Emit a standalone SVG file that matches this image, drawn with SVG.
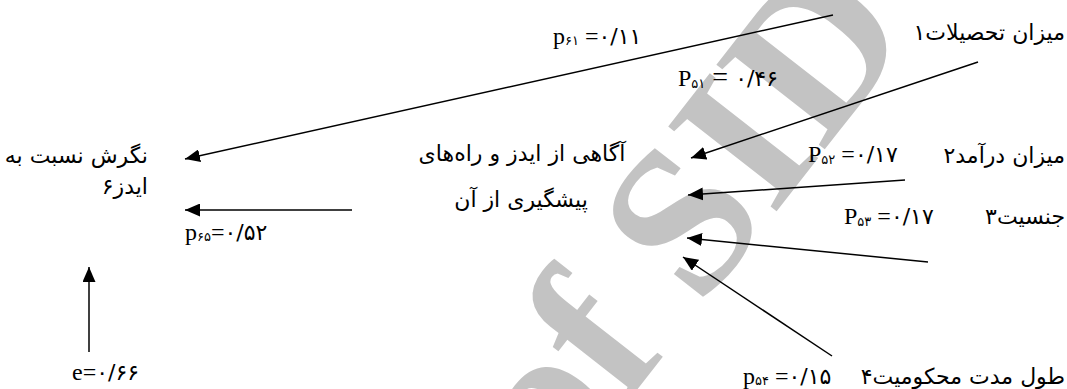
<svg xmlns="http://www.w3.org/2000/svg" width="1067" height="389" viewBox="0 0 1067 389">
<style>
.fa{font-family:"DejaVu Sans","Noto Sans",sans-serif;font-size:22px;fill:#000}
.lb{font-family:"Liberation Serif","DejaVu Sans",serif;font-size:24px;fill:#000}
.sb{font-family:"DejaVu Sans",sans-serif;font-size:13px;letter-spacing:1px}
.dg{font-family:"DejaVu Sans",sans-serif;font-size:22px;letter-spacing:5px}
.ln{stroke:#000;stroke-width:1.5;fill:none;marker-end:url(#ah)}
.wm{font-family:"Liberation Serif",serif;font-weight:bold;font-size:210px;fill:#c3c3c3}
</style>
<defs>
<marker id="ah" markerUnits="userSpaceOnUse" markerWidth="16" markerHeight="13" refX="15" refY="6.5" orient="auto">
<path d="M0,0 L15,6.5 L0,13 z" fill="#000"/>
</marker>
</defs>
<rect width="1067" height="389" fill="#fff"/>
<g id="watermark">
<text class="wm" transform="translate(700,309) rotate(-52)" x="-227" y="0">of SID</text>
</g>
<g id="connectors">
<line class="ln" x1="833" y1="15" x2="185" y2="159"/>
<line class="ln" x1="978" y1="62" x2="691" y2="158"/>
<line class="ln" x1="905" y1="180" x2="688" y2="195"/>
<line class="ln" x1="928" y1="262" x2="687" y2="238"/>
<line class="ln" x1="832" y1="356" x2="683" y2="257"/>
<line class="ln" x1="352" y1="210" x2="185" y2="210"/>
<line class="ln" x1="89" y1="352" x2="89" y2="267"/>
</g>
<g id="labels">
<text class="lb" x="553" y="44">p<tspan class="sb" dy="1">۶۱</tspan><tspan dy="-1"> =</tspan><tspan class="dg">۰/۱۱</tspan></text>
<text class="lb" x="678" y="86">P<tspan class="sb" dy="2">۵۱</tspan><tspan dy="-2" font-size="28"> = </tspan><tspan class="dg">۰/۴۶</tspan></text>
<text class="lb" x="808" y="162">P<tspan class="sb" dy="2">۵۲</tspan><tspan dy="-2"> =</tspan><tspan class="dg">۰/۱۷</tspan></text>
<text class="lb" x="844" y="224">P<tspan class="sb" dy="2">۵۳</tspan><tspan dy="-2"> =</tspan><tspan class="dg">۰/۱۷</tspan></text>
<text class="lb" x="743" y="384">p<tspan class="sb" dy="1">۵۴</tspan><tspan dy="-1"> =</tspan><tspan class="dg">۰/۱۵</tspan></text>
<text class="lb" x="185" y="240">p<tspan class="sb" dy="1">۶۵</tspan><tspan dy="-1">=</tspan><tspan class="dg">۰/۵۲</tspan></text>
<text class="lb" x="72" y="380">e=<tspan class="dg">۰/۶۶</tspan></text>
</g>
<g id="n1"><text class="fa" direction="rtl" x="1065" y="40">میزان تحصیلات۱</text></g>
<g id="n2"><text class="fa" direction="rtl" x="1065" y="163">میزان درآمد۲</text></g>
<g id="n3"><text class="fa" direction="rtl" x="1065" y="224">جنسیت۳</text></g>
<g id="n4"><text class="fa" direction="rtl" x="1065" y="384">طول مدت محکومیت۴</text></g>
<g id="n5">
<text class="fa" text-anchor="middle" x="522" y="161">آگاهی از ایدز و راه‌های</text>
<text class="fa" text-anchor="middle" x="521" y="207">پیشگیری از آن</text>
</g>
<g id="n6">
<text class="fa" direction="rtl" x="148" y="163">نگرش نسبت به</text>
<text class="fa" direction="rtl" x="148" y="194">ایدز۶</text>
</g>
</svg>
